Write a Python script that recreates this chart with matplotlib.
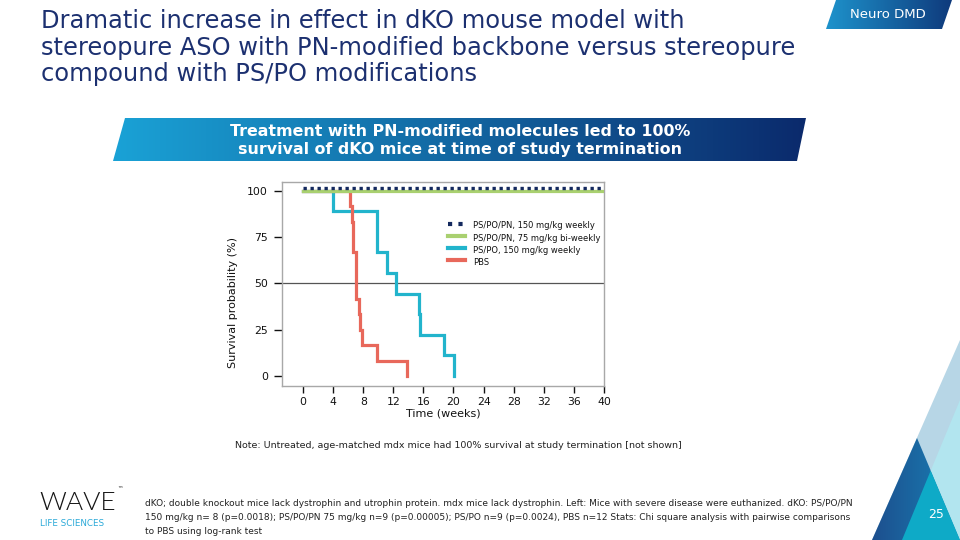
import numpy as np
import matplotlib
matplotlib.use("Agg")
import matplotlib.pyplot as plt
from matplotlib.patches import Polygon, FancyBboxPatch
import matplotlib.transforms as mtransforms

# ---------------- data ----------------
pn150_t = [0, 40]
pn150_s = [100, 100]
pn75_t = [0, 40]
pn75_s = [100, 100]
pspo_t = [0, 4.05, 9.9, 11.15, 12.35, 15.4, 15.6, 18.8, 20.1]
pspo_s = [100, 88.9, 66.7, 55.6, 44.4, 33.3, 22.2, 11.1, 0]
pbs_t = [0, 6.2, 6.45, 6.6, 7.0, 7.05, 7.1, 7.4, 7.6, 7.9, 9.9, 13.85]
pbs_s = [100, 91.7, 83.3, 66.7, 58.3, 50.0, 41.7, 33.3, 25.0, 16.7, 8.3, 0]
series_labels = ["PS/PO/PN, 150 mg/kg weekly", "PS/PO/PN, 75 mg/kg bi-weekly",
                 "PS/PO, 150 mg/kg weekly", "PBS"]
x_ticks = list(range(0, 41, 4))
y_ticks = [0, 25, 50, 75, 100]

title_lines = ["Dramatic increase in effect in dKO mouse model with",
               "stereopure ASO with PN-modified backbone versus stereopure",
               "compound with PS/PO modifications"]
banner_lines = ["Treatment with PN-modified molecules led to 100%",
                "survival of dKO mice at time of study termination"]
note_text = "Note: Untreated, age-matched mdx mice had 100% survival at study termination [not shown]"
footer_lines = ["dKO; double knockout mice lack dystrophin and utrophin protein. mdx mice lack dystrophin. Left: Mice with severe disease were euthanized. dKO: PS/PO/PN",
                "150 mg/kg n= 8 (p=0.0018); PS/PO/PN 75 mg/kg n=9 (p=0.00005); PS/PO n=9 (p=0.0024), PBS n=12 Stats: Chi square analysis with pairwise comparisons",
                "to PBS using log-rank test"]

NAVY = "#14295e"
GREEN = "#a9d070"
CYAN = "#22b4cc"
RED = "#e8685b"
TITLE_C = "#1c3070"

fig = plt.figure(figsize=(9.6, 5.4), dpi=100)
fig.patch.set_facecolor("white")

# background overlay axes in pixel coordinates
bg = fig.add_axes([0, 0, 1, 1])
bg.set_xlim(0, 960)
bg.set_ylim(540, 0)
bg.axis("off")


def grad_poly(ax, verts, c1, c2, zorder=1):
    poly = Polygon(verts, closed=True, facecolor="none", edgecolor="none")
    ax.add_patch(poly)
    xs = [v[0] for v in verts]
    ys = [v[1] for v in verts]
    cmap = matplotlib.colors.LinearSegmentedColormap.from_list("g", [c1, c2])
    g = np.linspace(0, 1, 256).reshape(1, -1)
    im = ax.imshow(g, cmap=cmap, extent=[min(xs), max(xs), max(ys), min(ys)],
                   aspect="auto", zorder=zorder, interpolation="bilinear")
    im.set_clip_path(poly)


# Neuro DMD tab
grad_poly(bg, [(836, 0), (952, 0), (942, 29), (826, 29)], "#1e93cc", "#0f3a7c")
bg.text(888, 14.5, "Neuro DMD", color="white", fontsize=9.5, ha="center", va="center",
        family="DejaVu Sans", zorder=3)

# Banner
grad_poly(bg, [(125, 118), (806, 118), (797, 161), (113, 161)], "#1aa2d6", "#0b2a6c")
for i, ln in enumerate(banner_lines):
    bg.text(460, 132 + i * 17.5, ln, color="white", fontsize=11.4, fontweight="bold",
            ha="center", va="center", zorder=3)

# Title
for i, ln in enumerate(title_lines):
    bg.text(41, 21.5 + i * 26.5, ln, color=TITLE_C, fontsize=17.4, ha="left", va="center")

# Decorative triangles
bg.add_patch(Polygon([(960, 340), (872, 540), (960, 540)], closed=True, facecolor="#b7d6e6", edgecolor="none", zorder=1))
grad_poly(bg, [(917, 438), (872, 540), (960, 540)], "#1d4f8e", "#1880b5", zorder=2)
bg.add_patch(Polygon([(960, 400), (930.7, 470.6), (960, 540)], closed=True, facecolor="#b2e5ef", edgecolor="none", zorder=3))
bg.add_patch(Polygon([(930.7, 470.6), (902, 540), (960, 540)], closed=True, facecolor="#0eaac7", edgecolor="none", zorder=3))
bg.text(936, 515, "25", color="white", fontsize=9, ha="center", va="center", zorder=4)

# Logo
bg.text(39, 503, "WAVE", color="#151515", fontsize=19, family="Lato", fontweight=300,
        ha="left", va="center")
bg.text(117, 490, "™", color="#151515", fontsize=4, ha="left", va="center")
bg.text(40, 523, "LIFE SCIENCES", color="#2aa9d8", fontsize=6.3, ha="left", va="center")

# Note and footer
bg.text(458, 446, note_text, color="#222222", fontsize=6.8, ha="center", va="center")
for i, ln in enumerate(footer_lines):
    bg.text(145, 503.5 + i * 14, ln, color="#222222", fontsize=6.5, ha="left", va="center")

# ---------------- chart ----------------
ax = fig.add_axes([282 / 960, 1 - 386 / 540, 322 / 960, 204 / 540])
ax.set_xlim(-2.79, 40)
ax.set_ylim(-5.4, 104.6)
for sp in ax.spines.values():
    sp.set_color("#a8a8a8")
    sp.set_linewidth(1.0)

ax.axhline(50, color="#555555", lw=0.9, zorder=1)

ax.step(pspo_t, pspo_s, where="post", color=CYAN, lw=2.3, zorder=3, solid_joinstyle="miter")
ax.step(pbs_t, pbs_s, where="post", color=RED, lw=2.3, zorder=4, solid_joinstyle="miter")
ax.plot(pn75_t, pn75_s, color=GREEN, lw=2.3, zorder=5)
off = mtransforms.offset_copy(ax.transData, fig=fig, x=0, y=2.0, units="points")
ax.plot(pn150_t, pn150_s, color=NAVY, lw=2.4, ls=(0, (1, 1.1)), zorder=6, transform=off)

ax.set_xticks(x_ticks)
ax.set_yticks(y_ticks)
ax.tick_params(axis="both", labelsize=7.8, colors="#111111", length=5, width=1, pad=3,
               direction="out")
ax.tick_params(axis="y", length=6, pad=4)
ax.set_xlabel("Time (weeks)", fontsize=8, color="#111111", labelpad=1)
fig.text(233 / 960, 1 - 303 / 540, "Survival probability (%)", rotation=90,
         fontsize=8, color="#111111", ha="center", va="center")

# legend (manual)
leg_rows = [226, 238.5, 250.5, 262.5]
leg_styles = [dict(color=NAVY, lw=3, ls=(0, (1, 1.5))),
              dict(color=GREEN, lw=3),
              dict(color=CYAN, lw=3),
              dict(color=RED, lw=3)]
for ypx, lab, st in zip(leg_rows, series_labels, leg_styles):
    yf = 1 - ypx / 540
    fig.add_artist(matplotlib.lines.Line2D([448 / 960, 465 / 960], [yf + 0.004, yf + 0.004],
                                           transform=fig.transFigure, **st))
    fig.text(473 / 960, yf, lab, fontsize=6, color="#111111", ha="left", va="center")
bg.add_patch(FancyBboxPatch((445, 231.5), 154, 11, boxstyle="round,pad=0,rounding_size=4",
                            facecolor="none", edgecolor="#bcdc94", lw=1.0, zorder=5))

fig.savefig("out.png", dpi=100)
